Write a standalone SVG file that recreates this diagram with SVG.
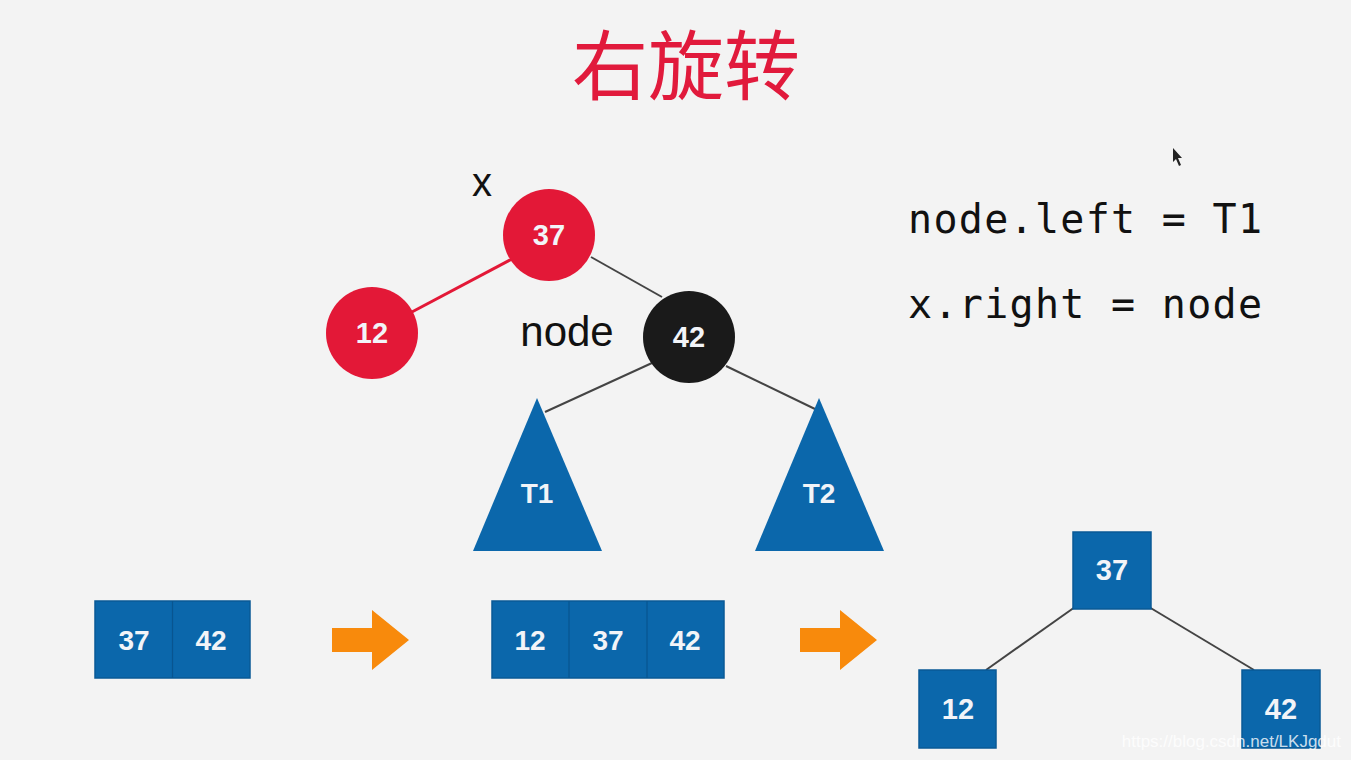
<svg xmlns="http://www.w3.org/2000/svg" width="1351" height="760" viewBox="0 0 1351 760">
<style>
.num{font-family:"Liberation Sans",Arial,sans-serif;font-weight:bold;fill:#f2f4f8;text-anchor:middle;dominant-baseline:central}
.lbl{font-family:"Liberation Sans",Arial,sans-serif;fill:#111;text-anchor:middle}
.code{font-family:"DejaVu Sans Mono","Liberation Mono",monospace;font-size:40px;fill:#111}
.blue{fill:#0b67ab}
.box{fill:#0b67ab;stroke:#0a5a96;stroke-width:1.5}
.div{stroke:#085590;stroke-width:1.2}
.edge{stroke:#444;stroke-width:2;fill:none}
.arrow{fill:#f88a0c}
</style>
<defs>
<polygon id="arr" points="0,18 40,18 40,0 77,30 40,60 40,42 0,42"/>
</defs>
<rect width="1351" height="760" fill="#f3f3f3"/>
<text x="686" y="94" font-family="'Noto Sans CJK SC',sans-serif" font-size="76" fill="#e11a3c" text-anchor="middle">右旋转</text>

<g id="connectors">
<line x1="512" y1="259" x2="410" y2="313" stroke="#e31837" stroke-width="3"/>
<line class="edge" x1="591" y1="257" x2="662" y2="297"/>
<line class="edge" x1="652" y1="363" x2="545" y2="412"/>
<line class="edge" x1="726" y1="366" x2="815" y2="409"/>
<line class="edge" x1="1075" y1="607" x2="986" y2="670"/>
<line class="edge" x1="1149" y1="607" x2="1254" y2="670"/>
</g>

<g id="node-x-label"><text class="lbl" x="482" y="196" font-size="40">x</text></g>
<g id="node-37"><circle cx="549" cy="235" r="46" fill="#e31837"/><text class="num" x="549" y="235" font-size="29">37</text></g>
<g id="node-12"><circle cx="372" cy="333" r="46" fill="#e31837"/><text class="num" x="372" y="333" font-size="29">12</text></g>
<g id="node-label"><text class="lbl" x="567" y="346" font-size="42">node</text></g>
<g id="node-42"><circle cx="689" cy="337" r="46" fill="#1a1a1a"/><text class="num" x="689" y="337" font-size="29">42</text></g>
<g id="node-T1"><polygon class="blue" points="537,398 602,551 473,551"/><text class="num" x="537" y="493" font-size="28">T1</text></g>
<g id="node-T2"><polygon class="blue" points="819,398 884,551 755,551"/><text class="num" x="819" y="493" font-size="28">T2</text></g>

<g id="code">
<text class="code" x="908" y="233" textLength="354">node.left = T1</text>
<text class="code" x="908" y="318" textLength="354">x.right = node</text>
</g>

<g id="cursor"><polygon points="1173,148 1173,162 1176,159 1179,166 1181,165 1178,158 1182,158" fill="#222"/></g>

<g id="array-2">
<rect class="box" x="95" y="601" width="155" height="77"/>
<line class="div" x1="172.5" y1="601" x2="172.5" y2="678"/>
<text class="num" x="134" y="640" font-size="28">37</text>
<text class="num" x="211" y="640" font-size="28">42</text>
</g>
<g id="arrow-1"><use href="#arr" x="332" y="610" class="arrow"/></g>
<g id="array-3">
<rect class="box" x="492" y="601" width="232" height="77"/>
<line class="div" x1="569" y1="601" x2="569" y2="678"/>
<line class="div" x1="647" y1="601" x2="647" y2="678"/>
<text class="num" x="530" y="640" font-size="28">12</text>
<text class="num" x="608" y="640" font-size="28">37</text>
<text class="num" x="685" y="640" font-size="28">42</text>
</g>
<g id="arrow-2"><use href="#arr" x="800" y="610" class="arrow"/></g>

<g id="bst-37"><rect class="box" x="1073" y="532" width="78" height="77"/><text class="num" x="1112" y="570" font-size="29">37</text></g>
<g id="bst-12"><rect class="box" x="919" y="670" width="77" height="78"/><text class="num" x="958" y="709" font-size="29">12</text></g>
<g id="bst-42"><rect class="box" x="1242" y="670" width="78" height="78"/><text class="num" x="1281" y="709" font-size="29">42</text></g>

<text x="1341" y="747" font-family="'Liberation Sans',Arial,sans-serif" font-size="17" fill="#ffffff" fill-opacity="0.8" text-anchor="end">https://blog.csdn.net/LKJgdut</text>
</svg>
